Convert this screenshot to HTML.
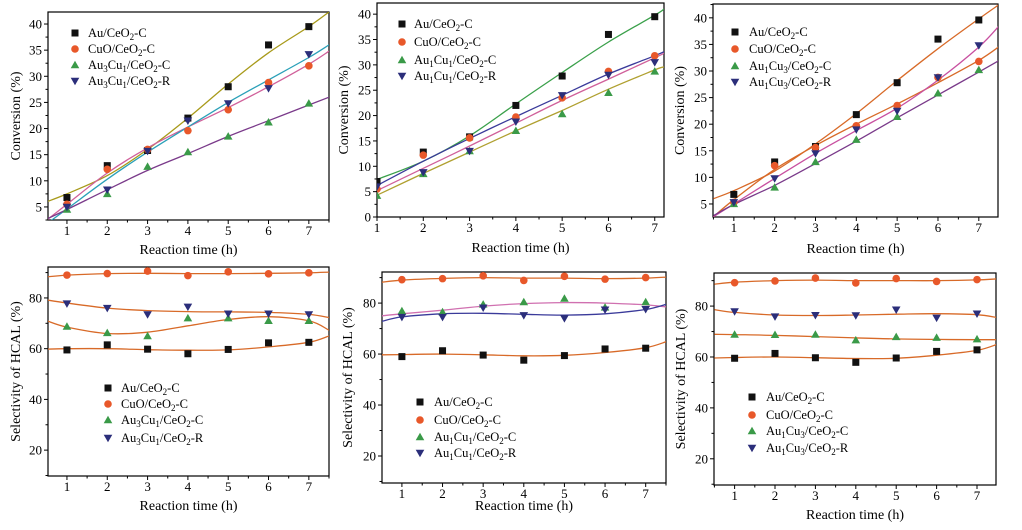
<!DOCTYPE html>
<html><head><meta charset="utf-8">
<style>
html,body{margin:0;padding:0;background:#fff;}
svg{display:block;font-family:"Liberation Serif",serif;}
</style></head>
<body>
<svg id="fig" width="1022" height="530" viewBox="0 0 1022 530"></svg>
<script>
const hours = [1,2,3,4,5,6,7];
// Panel 1: conversion, Au3Cu1
const p1Au   = [6.8,12.9,15.8,22,28,36,39.5];
const p1CuO  = [5.5,12.2,16,19.6,23.6,28.8,32];
const p1C    = [4.5,7.5,12.7,15.5,18.5,21.2,24.8];
const p1R    = [5,8.3,15.7,21.5,24.8,27.7,34.2];
const fitXa  = [0.5,1,2,3,4,5,6,7,7.5];
const p1FitAu  = [6.0,7.5,11,16,22,28.5,34.5,39.5,42.3];
const p1FitCuO = [2.5,5.5,11.5,16.3,20.3,24,28,32.3,34.8];
const p1FitR   = [1.8,4.6,10.3,15.5,20.3,25,29.3,33.6,36];
const p1FitC   = [2.7,4.5,8.3,12,15.2,18.5,21.5,24.5,26];
// Panel 2: conversion, Au1Cu1
const p2Au   = [7,12.8,15.8,22,27.8,36,39.5];
const p2CuO  = [5.5,12.2,15.6,19.7,23.5,28.7,31.8];
const p2C    = [4.2,8.5,13,17,20.3,24.5,28.7];
const p2R    = [6,8.8,13,18.8,24,28,30.5];
const fitXb  = [1,2,3,4,5,6,7,7.2];
const p2FitAu  = [7.4,11,16,22.3,28.5,34.5,39.8,41];
const p2FitR   = [6.2,11,15.5,19.8,24,28.2,31.8,32.6];
const p2FitCuO = [5.2,9.6,14,18.5,23,27.2,31.4,32.3];
const p2FitC   = [4.3,8.6,12.8,17,21,25.2,29,29.6];
// Panel 3: conversion, Au1Cu3
const p3Au   = [6.8,12.9,15.8,21.8,27.8,36,39.6];
const p3CuO  = [5.3,12.2,15.6,19.7,23.5,28.8,31.8];
const p3C    = [5,8.1,12.9,17.1,21.4,25.8,30.2];
const p3R    = [5.3,9.8,14.5,19,22.5,28.8,34.8];
const p3FitAu  = [6,7.5,11.2,16.3,22,28.2,34.2,39.8,42.5];
const p3FitCuO = [2.6,5.8,11.5,16,20,23.8,27.8,32,34.6];
const p3FitR   = [2.6,5,9.8,14.5,18.8,23,28.3,34.5,38.5];
const p3FitC   = [2.8,4.9,8.5,12.6,16.8,21.2,25.5,29.8,32];
// Panel 4: selectivity, Au3Cu1
const p4Au   = [59.5,61.5,59.8,58,59.7,62.3,62.5];
const p4CuO  = [89,89.6,90.6,88.8,90.3,89.5,89.9];
const p4C    = [68.7,66.2,65,72,72,71,71];
const p4R    = [77.8,76,73.5,76.5,73.8,73.8,73.5];
const p4FitAu  = [59.8,60,60,59.6,59.4,59.5,60.7,62.5,65];
const p4FitCuO = [88.3,89,89.6,89.7,89.6,89.6,89.7,89.9,90.2];
const p4FitC   = [71,68.5,66,66.5,69,71.5,72.6,71,67.3];
const p4FitR   = [79.2,78,76,75,74.6,74.5,74.3,73.5,72.3];
// Panel 5: selectivity, Au1Cu1
const p5Au   = [59,61.3,59.6,57.6,59.4,62,62.3];
const p5CuO  = [89.2,89.6,90.7,88.9,90.5,89.4,90];
const p5C    = [76.9,76.5,79.5,80.4,81.8,78.3,80.4];
const p5R    = [74.5,74.5,78.2,75.2,74,77.4,77.6];
const p5FitAu  = [59.7,59.8,60,59.7,59.3,59.5,60.6,62.5,64.8];
const p5FitCuO = [88.2,89,89.7,90,89.8,89.8,89.6,89.8,90.2];
const p5FitC   = [75,75.8,77.2,78.8,79.8,80.2,80,79.3,78.5];
const p5FitR   = [72.8,74.6,75.8,76,75.6,75.3,75.8,77.5,79.5];
// Panel 6: selectivity, Au1Cu3
const p6Au   = [59.5,61.4,59.7,57.9,59.6,62.2,62.8];
const p6CuO  = [89.2,89.9,91,89.1,90.8,89.7,90.4];
const p6C    = [68.8,68.7,68.8,66.6,67.9,67.6,67];
const p6R    = [77.9,75.9,76.4,76.3,78.6,75.4,77];
const p6FitAu  = [59.6,59.8,60,59.7,59.4,59.5,60.7,62.6,65];
const p6FitCuO = [88.6,89.4,90,90.2,90,90,90,90.3,90.7];
const p6FitC   = [68.9,68.8,68.5,68,67.5,67.1,66.9,66.8,66.8];
const p6FitR   = [78.6,77.5,76.5,76.3,76.5,76.8,77,76.6,75.5];
const convTicks = [5,10,15,20,25,30,35,40];
const convTicks0 = [0,5,10,15,20,25,30,35,40];
const selTicks = [20,40,60,80];

const NS='http://www.w3.org/2000/svg';
const svg=document.getElementById('fig');
function mk(tag,attrs,parent){const e=document.createElementNS(NS,tag);for(const k in attrs)e.setAttribute(k,attrs[k]);(parent||svg).appendChild(e);return e;}

const COL={Au:'#111',CuO:'#e8582a',C:'#3a9a48',R:'#2b2e7a'};

function smooth(pts){
  let d='M'+pts[0][0]+','+pts[0][1];
  for(let i=0;i<pts.length-1;i++){
    const p0=pts[i-1]||pts[i],p1=pts[i],p2=pts[i+1],p3=pts[i+2]||p2;
    const c1x=p1[0]+(p2[0]-p0[0])/6,c1y=p1[1]+(p2[1]-p0[1])/6;
    const c2x=p2[0]-(p3[0]-p1[0])/6,c2y=p2[1]-(p3[1]-p1[1])/6;
    d+=' C'+c1x.toFixed(1)+','+c1y.toFixed(1)+' '+c2x.toFixed(1)+','+c2y.toFixed(1)+' '+p2[0].toFixed(1)+','+p2[1].toFixed(1);
  }
  return d;
}

function marker(g,type,x,y){
  let e;
  if(type==='Au') e=mk('rect',{x:x-3.5,y:y-3.5,width:7,height:7,fill:COL.Au},g);
  else if(type==='CuO') e=mk('circle',{cx:x,cy:y,r:3.8,fill:COL.CuO},g);
  else if(type==='C') e=mk('polygon',{points:`${x},${y-4.3} ${x-4.3},${y+3.2} ${x+4.3},${y+3.2}`,fill:COL.C},g);
  else e=mk('polygon',{points:`${x},${y+4.3} ${x-4.3},${y-3.2} ${x+4.3},${y-3.2}`,fill:COL.R},g);
  return e;
}

const panels=[
 {id:1,L:48,R:329,T:12,B:220,xmin:0.53,xmax:7.5,ymin:2.5,ymax:42.3,ticks:convTicks,minor:2.5,ytitle:'Conversion (%)',ytx:20,xty:254,
  data:{Au:p1Au,CuO:p1CuO,C:p1C,R:p1R},fitX:fitXa,
  fits:[[p1FitAu,'#a89a1a'],[p1FitCuO,'#d0609a'],[p1FitR,'#2aa0b8'],[p1FitC,'#7a3a8a']],
  sub:['3','1'],leg:{x:75,tx:88,y:[33,49,65,81]}},
 {id:2,L:377,R:664,T:3,B:217,xmin:1,xmax:7.2,ymin:0,ymax:42.2,ticks:convTicks0,minor:2.5,ytitle:'Conversion (%)',ytx:348,xty:252,
  data:{Au:p2Au,CuO:p2CuO,C:p2C,R:p2R},fitX:fitXb,
  fits:[[p2FitAu,'#3aa04a'],[p2FitR,'#3a3a9a'],[p2FitCuO,'#d0609a'],[p2FitC,'#b0a030']],
  sub:['1','1'],leg:{x:402,tx:414,y:[24,42,60,76]}},
 {id:3,L:713,R:998,T:4,B:217,xmin:0.49,xmax:7.47,ymin:2.55,ymax:42.6,ticks:convTicks,minor:2.5,ytitle:'Conversion (%)',ytx:684,xty:253,
  data:{Au:p3Au,CuO:p3CuO,C:p3C,R:p3R},fitX:fitXa,
  fits:[[p3FitAu,'#d86a28'],[p3FitCuO,'#d86a28'],[p3FitR,'#c850a0'],[p3FitC,'#7a3a8a']],
  sub:['1','3'],leg:{x:735,tx:749,y:[32,49,66,82]}},
 {id:4,L:48,R:329,T:267,B:476,xmin:0.53,xmax:7.5,ymin:9.8,ymax:92.2,ticks:selTicks,minor:10,ytitle:'Selectivity of HCAL (%)',ytx:20,xty:510,
  data:{Au:p4Au,CuO:p4CuO,C:p4C,R:p4R},fitX:fitXa,
  fits:[[p4FitAu,'#d86a28'],[p4FitCuO,'#d86a28'],[p4FitC,'#d86a28'],[p4FitR,'#d86a28']],
  sub:['3','1'],leg:{x:108,tx:121,y:[388,404,420,438]}},
 {id:5,L:382,R:666,T:272,B:483,xmin:0.51,xmax:7.5,ymin:9.4,ymax:92.2,ticks:selTicks,minor:10,ytitle:'Selectivity of HCAL (%)',ytx:352,xty:510,
  data:{Au:p5Au,CuO:p5CuO,C:p5C,R:p5R},fitX:fitXa,
  fits:[[p5FitAu,'#d86a28'],[p5FitCuO,'#d86a28'],[p5FitC,'#d070b0'],[p5FitR,'#3a3a9a']],
  sub:['1','1'],leg:{x:420,tx:434,y:[402,420,437,453]}},
 {id:6,L:714,R:996,T:273,B:485,xmin:0.49,xmax:7.47,ymin:9.7,ymax:93,ticks:selTicks,minor:10,ytitle:'Selectivity of HCAL (%)',ytx:685,xty:519,
  data:{Au:p6Au,CuO:p6CuO,C:p6C,R:p6R},fitX:fitXa,
  fits:[[p6FitAu,'#d86a28'],[p6FitCuO,'#d86a28'],[p6FitC,'#d86a28'],[p6FitR,'#d86a28']],
  sub:['1','3'],leg:{x:752,tx:766,y:[397,415,431,448]}}
];

panels.forEach(P=>{
  const g=mk('g',{});
  
  
  const sx=v=>P.L+(v-P.xmin)/(P.xmax-P.xmin)*(P.R-P.L);
  const sy=v=>P.B-(v-P.ymin)/(P.ymax-P.ymin)*(P.B-P.T);
  const cp=mk('clipPath',{id:'clip'+P.id},g);
  mk('rect',{x:P.L,y:P.T,width:P.R-P.L,height:P.B-P.T},cp);
  const fr=mk('rect',{x:P.L,y:P.T,width:P.R-P.L,height:P.B-P.T,fill:'none',stroke:'#000','stroke-width':1.2},g);
  
  
  const xa=mk('g',{},g);
  
  
  for(let h=0.5;h<=7.5;h+=0.5){
    if(h<P.xmin-1e-6||h>P.xmax+1e-6)continue;
    const x=sx(h),major=Number.isInteger(h);
    mk('line',{x1:x,x2:x,y1:P.B,y2:P.B+(major?4:2.5),stroke:'#000','stroke-width':1},xa);
    if(major){const t=mk('text',{x:x,y:P.B+15,'text-anchor':'middle','font-size':13},xa);t.textContent=h;}
  }
  const xt=mk('text',{x:(P.L+P.R)/2,y:P.xty,'text-anchor':'middle','font-size':14},g);
  xt.textContent='Reaction time (h)';
  
  
  const ya=mk('g',{},g);
  
  
  for(let v=Math.ceil(P.ymin/P.minor)*P.minor;v<=P.ymax;v+=P.minor){
    const y=sy(v);const major=P.ticks.includes(Math.round(v*10)/10);
    mk('line',{x1:P.L,x2:P.L-(major?4:2.5),y1:y,y2:y,stroke:'#000','stroke-width':1},ya);
  }
  P.ticks.forEach(v=>{const t=mk('text',{x:P.L-6,y:sy(v)+4.5,'text-anchor':'end','font-size':13},ya);t.textContent=v;});
  const cy=(P.T+P.B)/2;
  const yt=mk('text',{x:P.ytx,y:cy,'text-anchor':'middle','font-size':14,transform:`rotate(-90 ${P.ytx} ${cy})`},g);
  yt.textContent=P.ytitle;
  
  
  const fg=mk('g',{'clip-path':`url(#clip${P.id})`},g);
  P.fits.forEach(([arr,c])=>{
    const pts=arr.map((v,i)=>[sx(P.fitX[i]),sy(v)]);
    const p=mk('path',{d:smooth(pts),fill:'none',stroke:c,'stroke-width':1.3},fg);
    
    
  });
  ['Au','CuO','C','R'].forEach(k=>{
    const sg=mk('g',{'clip-path':`url(#clip${P.id})`},g);
    
    
    P.data[k].forEach((v,i)=>{
      const m=marker(sg,k,sx(hours[i]),sy(v));
      
      
    });
  });
  const lg=mk('g',{},g);
  
  
  const labels=[
    ['Au','Au/CeO<tspan font-size="9" dy="3">2</tspan><tspan dy="-3">-C</tspan>'],
    ['CuO','CuO/CeO<tspan font-size="9" dy="3">2</tspan><tspan dy="-3">-C</tspan>'],
    ['C',`Au<tspan font-size="9" dy="3">${P.sub[0]}</tspan><tspan dy="-3">Cu</tspan><tspan font-size="9" dy="3">${P.sub[1]}</tspan><tspan dy="-3">/CeO</tspan><tspan font-size="9" dy="3">2</tspan><tspan dy="-3">-C</tspan>`],
    ['R',`Au<tspan font-size="9" dy="3">${P.sub[0]}</tspan><tspan dy="-3">Cu</tspan><tspan font-size="9" dy="3">${P.sub[1]}</tspan><tspan dy="-3">/CeO</tspan><tspan font-size="9" dy="3">2</tspan><tspan dy="-3">-R</tspan>`]
  ];
  labels.forEach(([k,html],i)=>{
    const eg=mk('g',{},lg);
    
    
    marker(eg,k,P.leg.x,P.leg.y[i]);
    const t=mk('text',{x:P.leg.tx,y:P.leg.y[i]+4,'font-size':12.5},eg);
    t.innerHTML=html;
  });
});
</script>
</body></html>
